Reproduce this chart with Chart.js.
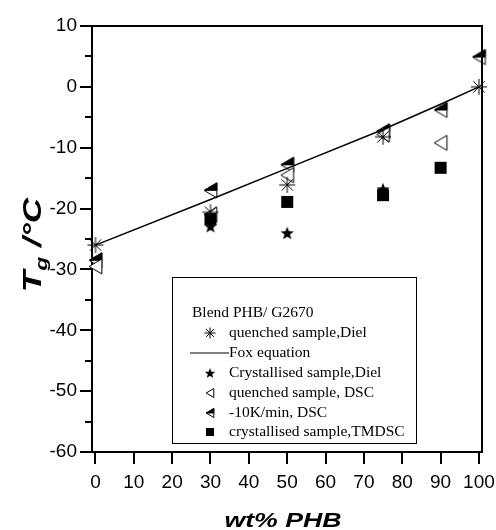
<!DOCTYPE html>
<html><head><meta charset="utf-8">
<script src="https://cdn.jsdelivr.net/npm/chart.js@4.4.0/dist/chart.umd.min.js"></script>
<style>html,body{margin:0;padding:0;background:#fff}</style>
</head><body>
<canvas id="c" width="496" height="530"></canvas>
<script>
// ---- data ----
const xTicks = [0,10,20,30,40,50,60,70,80,90,100];
const yTicks = [-60,-50,-40,-30,-20,-10,0,10];
const yMinorTicks = [-55,-45,-35,-25,-15,-5,5];

const foxX = [0,30,50,75,90,100];
const foxY = [-26,-18.5,-13.4,-7.0,-2.85,0];

const quenchedDielX = [0,30,50,75,100];
const quenchedDielY = [-26,-20.6,-16.1,-8.2,0];

const crystDielX = [30,50,75];
const crystDielY = [-22.9,-24.0,-16.8];

const quenchedDscX = [0,30,50,75,90];
const quenchedDscY = [-29.5,-21.0,-14.5,-7.8,-9.2];

const coolDscX = [0,30,50,75,90,100];
const coolDscY = [-28.5,-17.0,-12.8,-7.3,-3.8,4.9];

const tmdscX = [30,50,75,90];
const tmdscY = [-21.7,-18.9,-17.8,-13.3];

const legendTitle = 'Blend PHB/ G2670';
const legendLabels = ['quenched sample,Diel','Fox equation','Crystallised sample,Diel','quenched sample, DSC','-10K/min, DSC','crystallised sample,TMDSC'];

const pts = (xs, ys) => xs.map((x,i)=>({x:x, y:ys[i]}));

// ---- marker drawing ----
function drawShape(ctx, kind, cx, cy, s){
  ctx.save();
  ctx.strokeStyle = '#000'; ctx.fillStyle = '#000'; ctx.lineWidth = 1;
  const h = s/2;
  if (kind === 'asterisk'){
    ctx.beginPath();
    for (let k=0;k<4;k++){
      const a = k*Math.PI/4;
      ctx.moveTo(cx - Math.cos(a)*h, cy - Math.sin(a)*h);
      ctx.lineTo(cx + Math.cos(a)*h, cy + Math.sin(a)*h);
    }
    ctx.stroke();
  } else if (kind === 'star'){
    ctx.beginPath();
    for (let k=0;k<10;k++){
      const r = (k%2===0) ? h : h*0.42;
      const a = -Math.PI/2 + k*Math.PI/5;
      const px = cx + Math.cos(a)*r, py = cy + Math.sin(a)*r + h*0.1;
      if (k===0) ctx.moveTo(px,py); else ctx.lineTo(px,py);
    }
    ctx.closePath(); ctx.fill();
  } else if (kind === 'triOpen' || kind === 'triHalf'){
    const w = s*0.85, hh = s;
    const lx = cx - w/2, rx = cx + w/2, ty = cy - hh/2, by = cy + hh/2;
    ctx.fillStyle = '#fff';
    ctx.beginPath(); ctx.moveTo(lx,cy); ctx.lineTo(rx,ty); ctx.lineTo(rx,by); ctx.closePath();
    ctx.fill(); ctx.stroke();
    if (kind === 'triHalf'){
      ctx.fillStyle = '#000';
      ctx.beginPath(); ctx.moveTo(lx,cy); ctx.lineTo(rx,ty); ctx.lineTo(rx,cy); ctx.closePath();
      ctx.fill(); ctx.stroke();
    }
  } else if (kind === 'square'){
    ctx.fillRect(cx - h, cy - h, s, s);
  }
  ctx.restore();
}
function markerCanvas(kind, s){
  const c = document.createElement('canvas');
  const n = Math.ceil(s) + 4;
  c.width = n; c.height = n;
  drawShape(c.getContext('2d'), kind, n/2, n/2, s);
  return c;
}

// ---- plugin: frame, minor ticks, titles, legend ----
const decor = {
  id:'decor',
  afterDraw(chart){
    const ctx = chart.ctx, a = chart.chartArea;
    const ys = chart.scales.y;
    ctx.save();
    ctx.strokeStyle = '#000'; ctx.lineWidth = 2;
    ctx.beginPath();
    ctx.moveTo(a.left-1, a.top); ctx.lineTo(a.right, a.top); ctx.lineTo(a.right, a.bottom+1);
    ctx.stroke();
    // minor y ticks
    ctx.beginPath();
    yMinorTicks.forEach(v=>{
      const py = Math.round(ys.getPixelForValue(v));
      ctx.moveTo(a.left - 7, py); ctx.lineTo(a.left, py);
    });
    ctx.stroke();
    // x title
    ctx.fillStyle = '#000';
    ctx.save();
    ctx.translate(283, 527);
    ctx.scale(1.27, 1);
    ctx.font = 'italic bold 21px "Liberation Sans", Arial, sans-serif';
    ctx.textAlign = 'center'; ctx.textBaseline = 'alphabetic';
    ctx.fillText('wt% PHB', 0, 0);
    ctx.restore();
    // y title
    ctx.save();
    ctx.translate(41, 245);
    ctx.rotate(-Math.PI/2);
    ctx.scale(1.35, 1);
    ctx.textBaseline = 'alphabetic'; ctx.textAlign = 'left';
    const fBig = 'italic bold 26px "Liberation Sans", Arial, sans-serif';
    const fSmall = 'italic bold 17px "Liberation Sans", Arial, sans-serif';
    ctx.font = fBig; const wT = ctx.measureText('T').width;
    ctx.font = fSmall; const wg = ctx.measureText('g').width;
    ctx.font = fBig; const wR = ctx.measureText(' /°C').width;
    let x0 = -(wT + wg + wR)/2;
    ctx.font = fBig; ctx.fillText('T', x0, 0); x0 += wT;
    ctx.font = fSmall; ctx.fillText('g', x0, 6); x0 += wg;
    ctx.font = fBig; ctx.fillText(' /°C', x0, 0);
    ctx.restore();
    // legend
    ctx.lineWidth = 1;
    ctx.strokeRect(172.5, 277.5, 244, 166);
    ctx.font = '15.5px "Liberation Serif", "Times New Roman", serif';
    ctx.textBaseline = 'middle'; ctx.textAlign = 'left';
    ctx.fillText(legendTitle, 192, 313);
    const rows = [333, 353, 373, 393, 413, 432];
    const kinds = ['asterisk', 'line', 'star', 'triOpen', 'triHalf', 'square'];
    const sizes = [11, 0, 11, 9, 9, 8];
    rows.forEach((ry, i)=>{
      if (kinds[i] === 'line'){
        ctx.beginPath(); ctx.moveTo(190, ry); ctx.lineTo(229, ry); ctx.stroke();
        ctx.fillText(legendLabels[i], 229, ry);
      } else {
        drawShape(ctx, kinds[i], 210, ry, sizes[i]);
        ctx.fillText(legendLabels[i], 229, ry);
      }
    });
    ctx.restore();
  }
};

const tickFont = {family:'"Liberation Sans", Arial, sans-serif', size:19};

new Chart(document.getElementById('c'), {
  type:'scatter',
  data:{datasets:[
    {label:legendLabels[1], type:'line', data:pts(foxX, foxY), borderColor:'#000', borderWidth:1.5, pointRadius:0, fill:false, tension:0, order:1},
    {label:legendLabels[0], data:pts(quenchedDielX, quenchedDielY), pointStyle:markerCanvas('asterisk', 16), order:2},
    {label:legendLabels[2], data:pts(crystDielX, crystDielY), pointStyle:markerCanvas('star', 14), order:3},
    {label:legendLabels[5], data:pts(tmdscX, tmdscY), pointStyle:markerCanvas('square', 12), order:4},
    {label:legendLabels[3], data:pts(quenchedDscX, quenchedDscY), pointStyle:markerCanvas('triOpen', 15), order:5},
    {label:legendLabels[4], data:pts(coolDscX, coolDscY), pointStyle:markerCanvas('triHalf', 15), order:6}
  ]},
  options:{
    responsive:false, animation:false, devicePixelRatio:1,
    clip:false,
    layout:{padding:{left:0, top:26, right:14, bottom:0}},
    plugins:{legend:{display:false}, tooltip:{enabled:false}},
    elements:{point:{radius:7}},
    scales:{
      x:{
        type:'linear', min:-0.9, max:100.8,
        afterBuildTicks:s=>{ s.ticks = xTicks.map(v=>({value:v})); },
        afterFit:s=>{ s.height = 78; s.paddingLeft = 0; s.paddingRight = 0; },
        grid:{drawOnChartArea:false, drawTicks:true, tickLength:12, color:'#000', lineWidth:2},
        border:{display:true, color:'#000', width:2},
        ticks:{color:'#000', font:tickFont, padding:7, autoSkip:false, maxRotation:0}
      },
      y:{
        type:'linear', min:-60, max:10,
        afterBuildTicks:s=>{ s.ticks = yTicks.map(v=>({value:v})); },
        afterFit:s=>{ s.width = 92; s.paddingTop = 0; s.paddingBottom = 0; },
        grid:{drawOnChartArea:false, drawTicks:true, tickLength:12, color:'#000', lineWidth:2},
        border:{display:true, color:'#000', width:2},
        ticks:{color:'#000', font:tickFont, padding:3}
      }
    }
  },
  plugins:[decor]
});
</script>
</body></html>
